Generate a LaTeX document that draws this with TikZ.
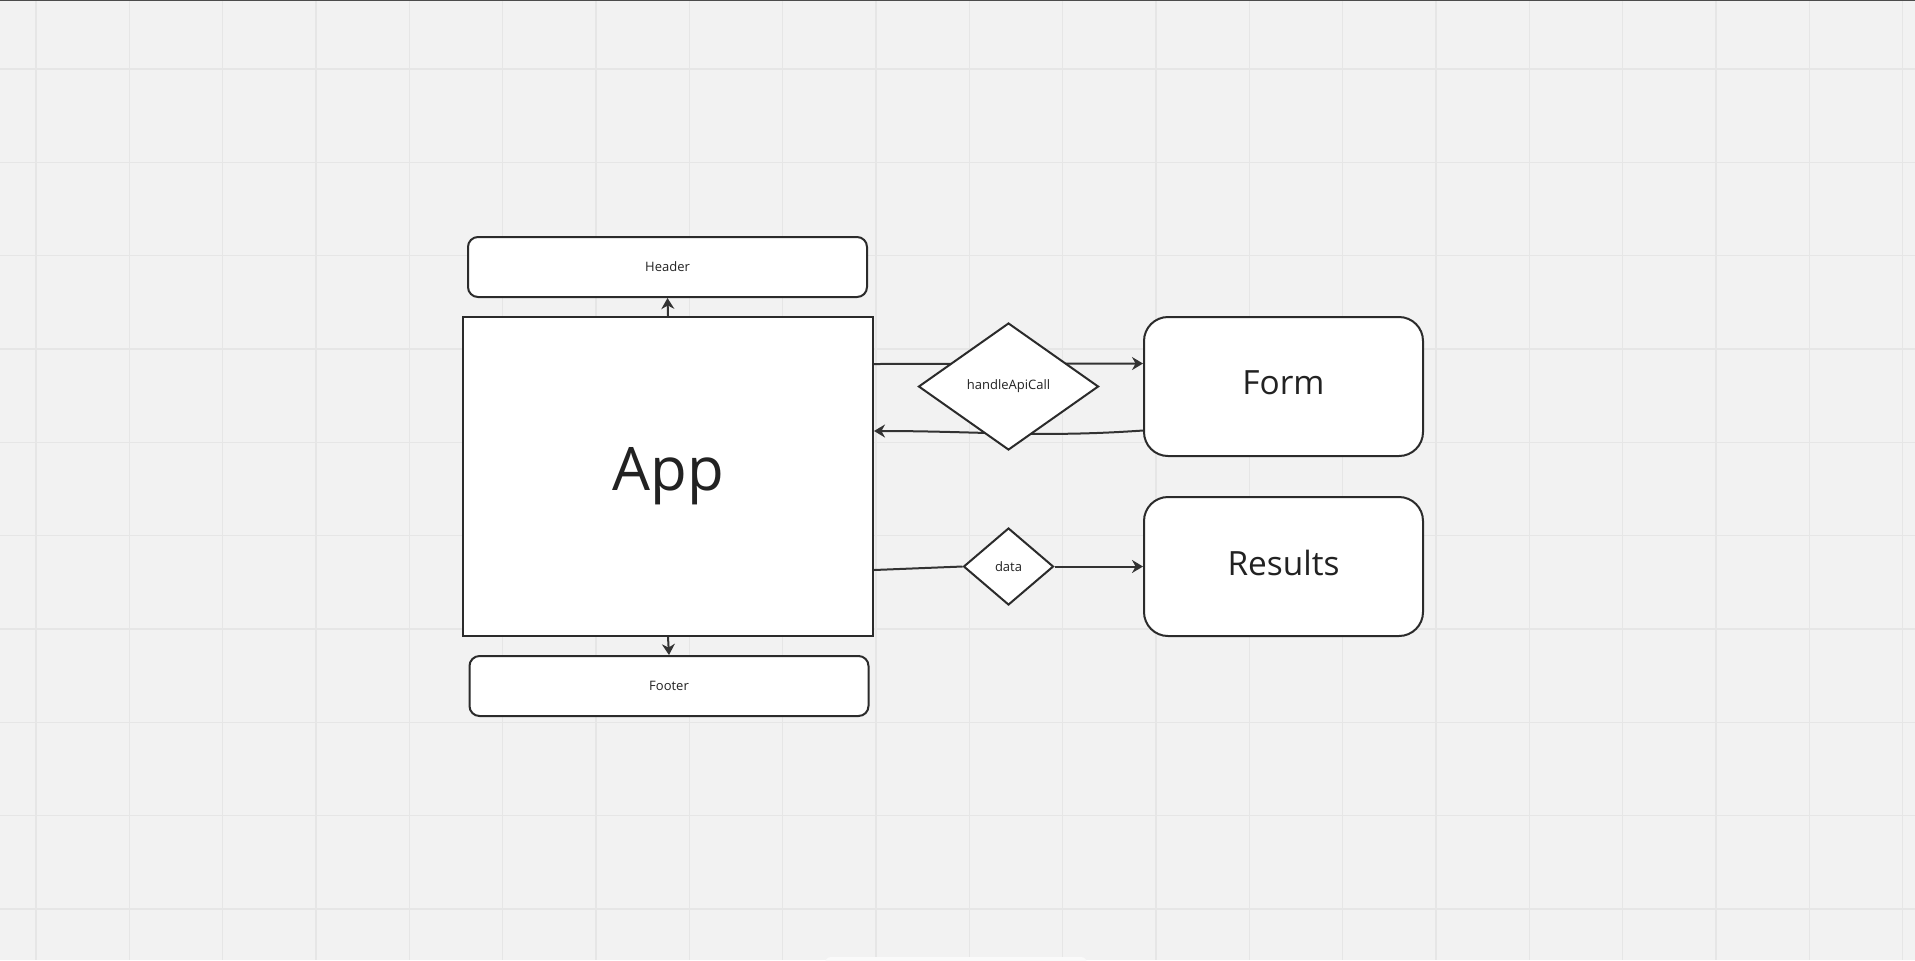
\documentclass[tikz,border=0pt]{standalone}
\usepackage{fontspec}
\setmainfont{Open Sans}
\usetikzlibrary{shapes.geometric,arrows.meta,calc}
\definecolor{canvas}{HTML}{F2F2F2}
\definecolor{gridc}{HTML}{E6E6E6}
\definecolor{ink}{HTML}{2B2B2B}
\definecolor{wire}{HTML}{333333}
\definecolor{txt}{HTML}{222222}
\tikzset{
  block/.style={draw=ink, line width=1pt, fill=white, inner sep=0pt, text=txt},
  smallbox/.style={block, rounded corners=5pt, minimum width=199.5pt, minimum height=30pt, font=\fontsize{6.5}{8}\selectfont},
  bigbox/.style={block, rounded corners=12pt, minimum width=139.5pt, minimum height=69.5pt, text depth=4pt, font=\fontsize{16.7}{19}\selectfont},
  decision/.style={block, diamond, font=\fontsize{6.5}{7}\selectfont},
  wireline/.style={draw=wire, line width=1pt},
  arrowline/.style={wireline, -{Stealth[length=5.5pt, width=6.5pt]}},
  gridline/.style={draw=gridc, line width=0.6pt}
}
\begin{document}
\begin{tikzpicture}[x=0.5pt, y=-0.5pt]
  \useasboundingbox (0,0) rectangle (1915,960);
  \clip (0,0) rectangle (1915,960);
  % canvas and grid
  \fill[canvas] (0,0) rectangle (1915,960);
  \foreach \i in {0,...,20} \draw[gridline] ({36+93.33*\i},0) -- ++(0,960);
  \foreach \j in {0,...,9} \draw[gridline] (0,{69+93.33*\j}) -- ++(1915,0);
  \draw[draw=black!70, line width=0.7pt] (0,0.6) -- (1915,0.6);
  \fill[white!98!black, rounded corners=3pt] (825,957) rectangle (1087,980);

  % components
  \node[block, minimum width=205pt, minimum height=159.5pt, font=\fontsize{30}{36}\selectfont] (App) at (668,476.5) {App};
  \node[smallbox] (Header) at (667.5,267) {Header};
  \node[smallbox] (Footer) at (669,686) {Footer};
  \node[bigbox] (Form) at (1283.5,386.5) {Form};
  \node[bigbox] (Results) at (1283.5,566.5) {Results};

  % App <-> Form, passing behind the handleApiCall diamond
  \draw[arrowline] ($(App.east)+(0,-112.5)$) -- ($(Form.west)+(0,-23)$);
  \draw[arrowline] ($(Form.west)+(0,44)$) to[out=184, in=0] ($(App.east)+(0,-45.5)$);
  \node[decision, minimum width=90pt, minimum height=63.5pt] (api) at (1008.5,386.5) {handleApiCall};

  % App -> data -> Results
  \node[decision, minimum width=45pt, minimum height=38.5pt] (data) at (1008.5,566.5) {data};
  \draw[wireline] ($(App.east)+(0,93.5)$) -- (data.west);
  \draw[arrowline] (data.east) -- (Results.west);

  % App -> Header / Footer
  \draw[arrowline] (App.north) -- (Header.south);
  \draw[arrowline] (App.south) -- (Footer.north);
\end{tikzpicture}
\end{document}
